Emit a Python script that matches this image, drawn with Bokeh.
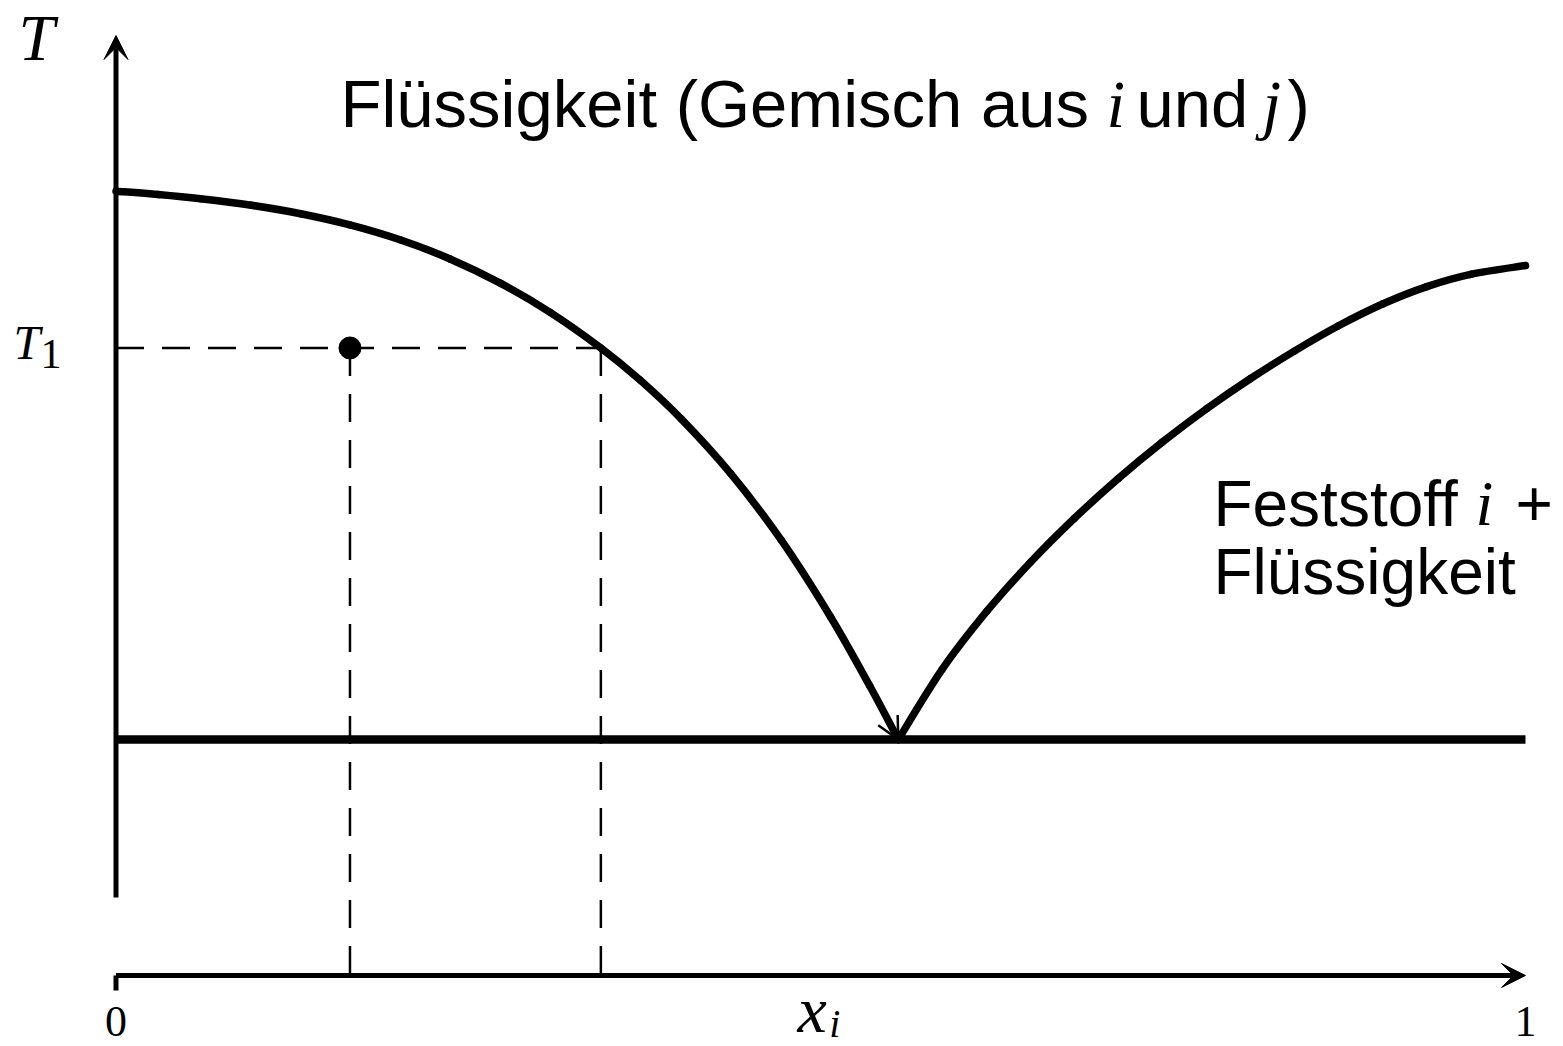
from bokeh.plotting import figure
from bokeh.models import Range1d, Arrow, VeeHead, OpenHead
from bokeh.core.properties import value
from bokeh.embed import file_html
from bokeh.resources import INLINE

# Liquidus branch of component j (left) down to the eutectic point
x_left = [0.000, 0.030, 0.060, 0.096, 0.131, 0.166, 0.202, 0.237, 0.273, 0.308,
          0.344, 0.372, 0.401, 0.436, 0.472, 0.507, 0.535, 0.555]
T_left = [8.344, 8.308, 8.263, 8.194, 8.104, 7.985, 7.824, 7.623, 7.363, 7.055,
          6.676, 6.332, 5.921, 5.341, 4.631, 3.814, 3.074, 2.510]

# Liquidus branch of component i (right) from the eutectic point
x_right = [0.555, 0.586, 0.618, 0.649, 0.680, 0.711, 0.742, 0.774, 0.805, 0.836,
           0.867, 0.899, 0.930, 0.961, 1.000]
T_right = [2.510, 3.254, 3.878, 4.399, 4.864, 5.286, 5.670, 6.032, 6.351, 6.642,
           6.909, 7.146, 7.329, 7.459, 7.553]

# Eutectic temperature, the state point at T1 and the liquidus composition at T1
T_eut = 2.51
x_eut = 0.555
T1 = 6.676
x_state = 0.166
x_liq = 0.344

# Axis extents
T_axis_low = 0.83
T_axis_top = 10.0
x_axis_T = 0.0

tick_labels = ["0", "1"]
tick_pos = [0.0, 1.0]

W, H = 1563, 1046
p = figure(width=W, height=H, output_backend="svg", toolbar_location=None,
           x_range=Range1d(-0.08194, 1.02696), y_range=Range1d(-0.7553, 10.3723),
           min_border=0, min_border_left=0, min_border_right=0,
           min_border_top=0, min_border_bottom=0)
p.axis.visible = False
p.grid.visible = False
p.outline_line_color = None
p.background_fill_color = "white"
p.border_fill_color = "white"

black = "black"


def smooth_curve(xs, ys, width):
    """Draw a smooth curve through the given points (Catmull-Rom as cubic Beziers)."""
    n = len(xs)
    x0, y0, x1, y1, cx0, cy0, cx1, cy1 = ([] for _ in range(8))
    for i in range(n - 1):
        ip, inn = max(i - 1, 0), min(i + 2, n - 1)
        x0.append(xs[i]); y0.append(ys[i])
        x1.append(xs[i + 1]); y1.append(ys[i + 1])
        cx0.append(xs[i] + (xs[i + 1] - xs[ip]) / 6.0)
        cy0.append(ys[i] + (ys[i + 1] - ys[ip]) / 6.0)
        cx1.append(xs[i + 1] - (xs[inn] - xs[i]) / 6.0)
        cy1.append(ys[i + 1] - (ys[inn] - ys[i]) / 6.0)
    p.bezier(x0=x0, y0=y0, x1=x1, y1=y1, cx0=cx0, cy0=cy0, cx1=cx1, cy1=cy1,
             line_color=black, line_width=width, line_cap="round")


# Temperature axis with arrow
p.add_layout(Arrow(end=VeeHead(size=24, fill_color=black, line_color=black, line_width=1),
                   x_start=0.0, y_start=T_axis_low, x_end=0.0, y_end=T_axis_top,
                   line_color=black, line_width=5))
# Composition axis with arrow
p.add_layout(Arrow(end=VeeHead(size=24, fill_color=black, line_color=black, line_width=1),
                   x_start=0.0, y_start=x_axis_T, x_end=1.0, y_end=x_axis_T,
                   line_color=black, line_width=5))
# small tick at x = 0
p.line([0.0, 0.0], [x_axis_T, x_axis_T - 0.16], line_color=black, line_width=5)

# Dashed construction lines at T1
dash = "28 18"
p.line([0.0, x_liq], [T1, T1], line_color=black, line_width=2.5, line_dash=dash)
p.line([x_state, x_state], [T1, x_axis_T], line_color=black, line_width=2.5, line_dash=dash)
p.line([x_liq, x_liq], [T1, x_axis_T], line_color=black, line_width=2.5, line_dash=dash)

# Eutectic line
p.line([0.0, 1.0], [T_eut, T_eut], line_color=black, line_width=8.5)

# Liquidus curves
smooth_curve(x_left, T_left, 7.5)
smooth_curve(x_right, T_right, 7.5)

# Arrow tip where the left branch reaches the eutectic
p.add_layout(Arrow(end=OpenHead(size=22, line_color=black, line_width=2.5),
                   x_start=x_left[-2], y_start=T_left[-2], x_end=x_eut, y_end=T_eut,
                   line_alpha=0))

# State point
p.scatter([x_state], [T1], size=22, fill_color=black, line_color=black)

serif = value("Liberation Serif")
sans = value("Liberation Sans")


def txt(x, y, s, font, size, style="normal", align="left"):
    p.text(x=[x], y=[y], text=[s], text_font=font, text_font_size=size,
           text_font_style=style, text_align=align, text_baseline="alphabetic",
           text_color=black)


# Axis labels
txt(-0.0692, 9.970, "T", serif, "65px", "italic")
txt(-0.0727, 6.732, "T", serif, "48px", "italic")
txt(-0.0536, 6.610, "1", serif, "42px")
for lbl, pos in zip(tick_labels, tick_pos):
    txt(pos, -0.492, lbl, serif, "44px", align="center")
txt(0.4835, -0.357, "x", serif, "66px", "italic")
txt(0.5060, -0.508, "i", serif, "40px", "italic")

# Region labels
txt(0.1593, 9.275, "Flüssigkeit (Gemisch aus", sans, "67px")
txt(0.7027, 9.275, "i", serif, "67px", "italic")
txt(0.7240, 9.275, "und", sans, "67px")
txt(0.8134, 9.275, "j", serif, "67px", "italic")
txt(0.8312, 9.275, ")", sans, "67px")

txt(0.7786, 5.018, "Feststoff", sans, "64px")
txt(0.9645, 5.018, "i", serif, "64px", "italic")
txt(0.9929, 5.018, "+", sans, "64px")
txt(0.7786, 4.295, "Flüssigkeit", sans, "64px")

open("out.html", "w").write(file_html(p, INLINE))
